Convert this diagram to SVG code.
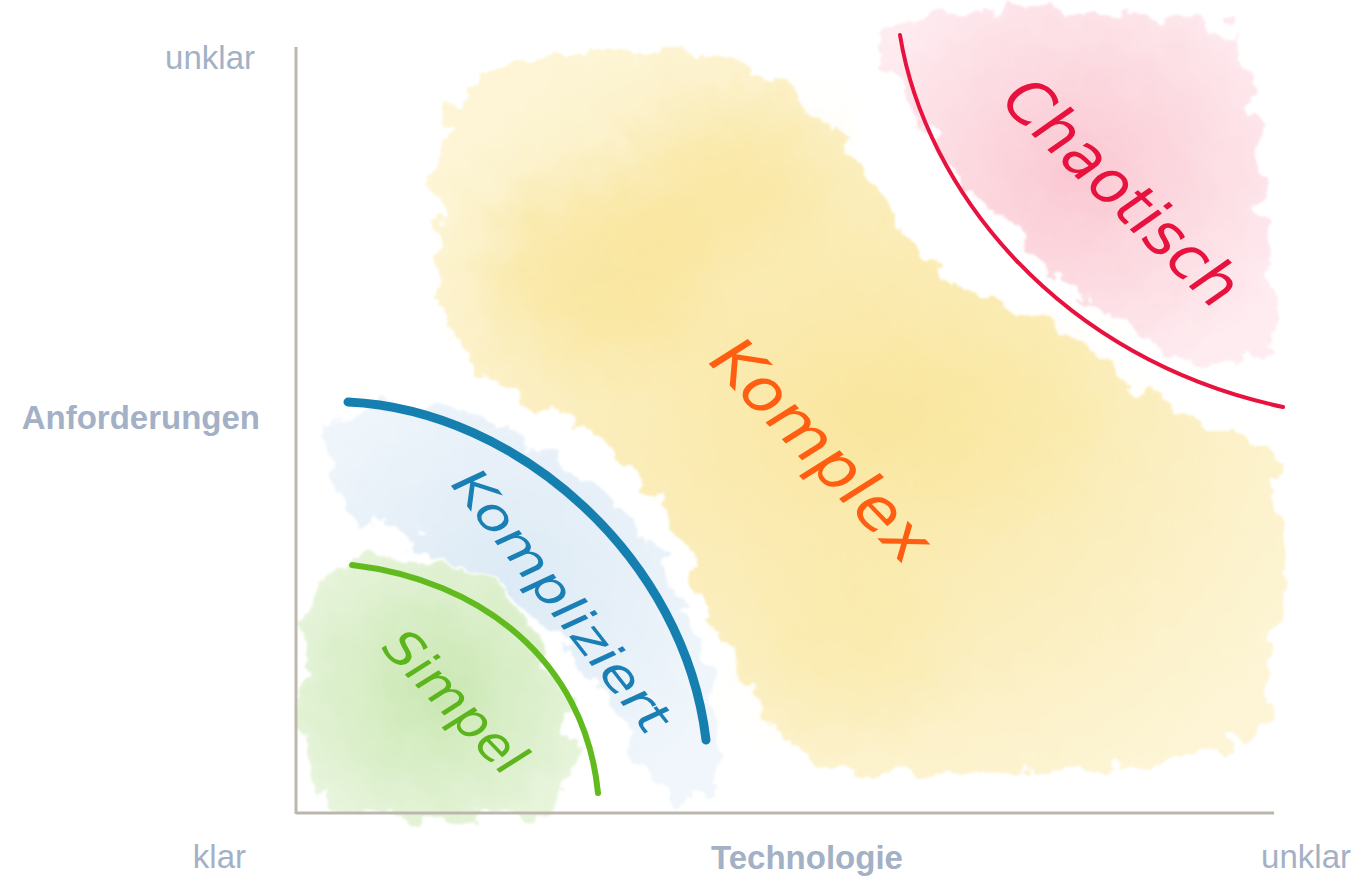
<svg xmlns="http://www.w3.org/2000/svg" width="1357" height="876" viewBox="0 0 1357 876">
<style>
.lbl{font-family:"Liberation Sans","Helvetica",sans-serif;fill:#a3b1c6;font-size:33px}
.bold{font-weight:bold}
.hand{font-family:"DejaVu Sans","Noto Sans",sans-serif;font-style:italic;font-weight:300;dominant-baseline:central;text-anchor:middle}
.axis{stroke:#bcb7ad;stroke-width:3;fill:none}
.curve{fill:none;stroke-linecap:round}
</style>
<defs>
<filter id="wc" x="-10%" y="-10%" width="120%" height="120%">
<feTurbulence type="fractalNoise" baseFrequency="0.035" numOctaves="4" seed="3" result="n"/>
<feDisplacementMap in="SourceGraphic" in2="n" scale="40" xChannelSelector="R" yChannelSelector="G" result="d"/>
<feGaussianBlur in="d" stdDeviation="1.2"/>
</filter>
<filter id="soft" x="-20%" y="-20%" width="140%" height="140%">
<feGaussianBlur stdDeviation="30"/>
</filter>
<radialGradient id="gy" cx="50%" cy="50%" r="60%"><stop offset="0" stop-color="#f9e6a0"/><stop offset="1" stop-color="#fdf5d6"/></radialGradient>
<radialGradient id="gp" cx="50%" cy="45%" r="60%"><stop offset="0" stop-color="#fbc8d2"/><stop offset="1" stop-color="#feecf0"/></radialGradient>
<radialGradient id="gb" cx="45%" cy="45%" r="60%"><stop offset="0" stop-color="#dceaf5"/><stop offset="1" stop-color="#f0f6fb"/></radialGradient>
<radialGradient id="gg" cx="50%" cy="50%" r="60%"><stop offset="0" stop-color="#cae7b2"/><stop offset="1" stop-color="#e8f5dd"/></radialGradient>
</defs>
<rect width="1357" height="876" fill="#ffffff"/>

<g id="blob-komplex" filter="url(#wc)">
<path fill="url(#gy)" d="M470,85 C540,50 640,40 710,55 C780,70 830,120 880,185 C910,230 930,275 975,300 C1030,318 1080,330 1130,380 C1170,420 1230,425 1270,450 C1290,500 1285,620 1270,710 C1240,760 1150,775 1060,770 C980,775 880,780 820,765 C770,740 750,690 720,640 C690,590 690,540 660,500 C620,450 560,420 500,385 C450,350 440,300 432,240 C428,180 440,120 470,85 Z"/>
<ellipse cx="600" cy="270" rx="110" ry="90" fill="#f6dc7a" opacity="0.4" filter="url(#soft)"/>
<ellipse cx="730" cy="180" rx="90" ry="70" fill="#f6dc7a" opacity="0.35" filter="url(#soft)"/>
<ellipse cx="980" cy="420" rx="120" ry="80" fill="#f8e594" opacity="0.3" filter="url(#soft)"/>
<ellipse cx="850" cy="640" rx="90" ry="80" fill="#f8e594" opacity="0.3" filter="url(#soft)"/>
</g>

<g id="blob-chaotisch" filter="url(#wc)">
<path fill="url(#gp)" d="M890,20 C960,8 1060,12 1140,15 C1200,18 1240,25 1250,60 C1260,130 1262,220 1272,290 C1275,330 1265,360 1220,365 C1160,360 1080,300 1020,240 C960,180 915,120 885,75 C875,50 878,30 890,20 Z"/>
</g>

<g id="blob-kompliziert" filter="url(#wc)">
<path fill="url(#gb)" d="M335,420 C370,400 440,405 510,430 C580,460 640,520 680,590 C710,650 725,720 715,790 C700,805 670,805 655,790 C630,730 600,680 560,640 C510,590 450,560 390,530 C350,510 330,490 330,460 C328,440 330,428 335,420 Z"/>
</g>

<g id="blob-simpel" filter="url(#wc)">
<path fill="url(#gg)" d="M330,570 C370,548 430,550 480,580 C530,615 560,670 572,730 C580,780 560,810 520,815 C460,820 390,822 340,812 C305,800 298,750 300,690 C302,630 310,590 330,570 Z"/>
</g>

<g id="axes">
<line class="axis" x1="296" y1="47" x2="296" y2="814"/>
<line class="axis" x1="296" y1="813" x2="1274" y2="813"/>
</g>

<g id="connectors">
<path class="curve" stroke="#e8123e" stroke-width="4" d="M900,35 C925,190 1060,360 1283,407"/>
<path class="curve" stroke="#157fb0" stroke-width="9" d="M348,402 C520,410 685,560 706,740"/>
<path class="curve" stroke="#62bb1e" stroke-width="6" d="M352,565 C480,580 585,660 598,793"/>
</g>

<g id="labels">
<text class="lbl" x="255" y="69" text-anchor="end">unklar</text>
<text class="lbl bold" x="260" y="429" text-anchor="end">Anforderungen</text>
<text class="lbl" x="246" y="868" text-anchor="end">klar</text>
<text class="lbl bold" x="807" y="869" text-anchor="middle">Technologie</text>
<text class="lbl" x="1351" y="868" text-anchor="end">unklar</text>
</g>

<g id="node-chaotisch">
<text class="hand" fill="#e8123e" font-size="62" textLength="300" lengthAdjust="spacingAndGlyphs" transform="translate(1122,192) rotate(44)">Chaotisch</text>
</g>
<g id="node-komplex">
<text class="hand" fill="#ff5e10" font-size="62" textLength="285" lengthAdjust="spacingAndGlyphs" transform="translate(822,450) rotate(46)">Komplex</text>
</g>
<g id="node-kompliziert">
<text class="hand" fill="#1a7fb5" font-size="48" textLength="320" lengthAdjust="spacingAndGlyphs" transform="translate(562,600) rotate(52)">Kompliziert</text>
</g>
<g id="node-simpel">
<text class="hand" fill="#5cb51c" font-size="50" textLength="180" lengthAdjust="spacingAndGlyphs" transform="translate(455,702) rotate(46)">Simpel</text>
</g>
</svg>
